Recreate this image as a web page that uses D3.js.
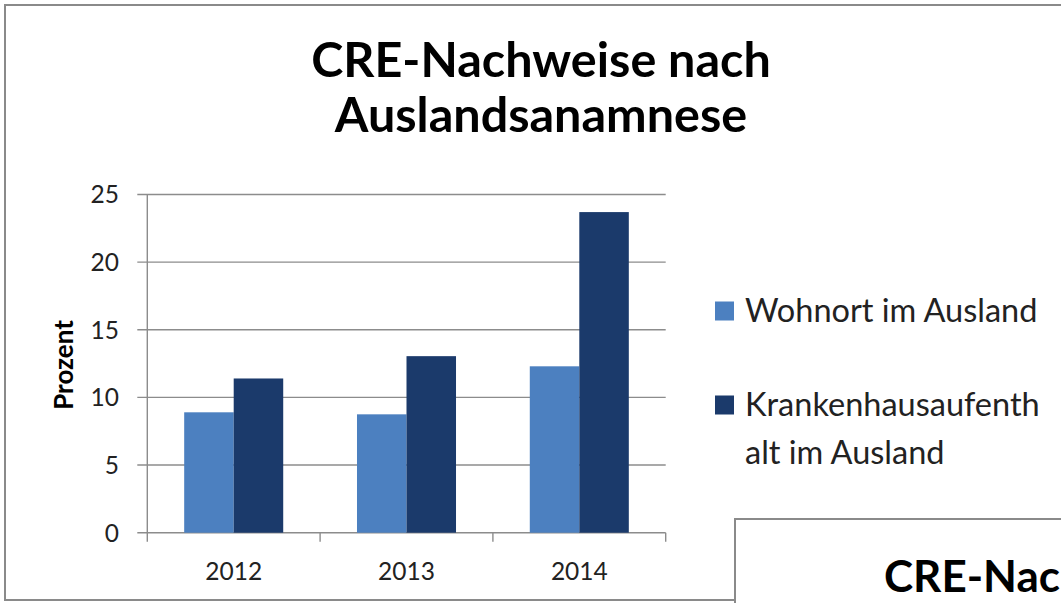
<!DOCTYPE html>
<html>
<head>
<meta charset="utf-8">
<script src="https://cdn.jsdelivr.net/npm/d3@7"></script>
<style>
  body { margin: 0; background: #fff; }
  svg { display: block; font-family: Lato, "Open Sans", sans-serif; }
</style>
</head>
<body>
<div id="chart"></div>
<script>
// data
const years = ["2012", "2013", "2014"];
const seriesNames = ["Wohnort im Ausland", "Krankenhausaufenthalt im Ausland"];
const wohnort = [8.9, 8.75, 12.3];
const krankenhaus = [11.4, 13.05, 23.7];
const yTicks = [0, 5, 10, 15, 20, 25];

const colors = ["#4c80c0", "#1b3a6b"];
const W = 1061, H = 603;

const svg = d3.select("#chart").append("svg")
    .attr("width", W).attr("height", H);

// outer chart frame
svg.append("rect")
    .attr("x", 5).attr("y", 5)
    .attr("width", W + 10).attr("height", 595)
    .style("fill", "#fff")
    .style("stroke", "#8a8a8a")
    .style("stroke-width", 2);

// title
const title = svg.append("text")
    .attr("text-anchor", "middle")
    .style("font-weight", "bold")
    .style("font-size", "48.5px")
    .style("fill", "#000");
title.append("tspan").attr("x", 541).attr("y", 77).text("CRE-Nachweise nach");
title.append("tspan").attr("x", 541).attr("y", 132).text("Auslandsanamnese");

const plot = { left: 147.3, right: 665.7, top: 194.5, bottom: 532.7 };

const x0 = d3.scaleBand().domain(years).range([plot.left, plot.right]).padding(0);
const x1 = d3.scaleBand().domain(seriesNames).range([0, x0.bandwidth()])
    .paddingInner(0).paddingOuter(0.745);
const y = d3.scaleLinear().domain([0, 25]).range([plot.bottom, plot.top]);

// gridlines
svg.append("g").selectAll("line")
    .data(yTicks)
    .enter().append("line")
    .attr("x1", plot.left - 10).attr("x2", plot.right)
    .attr("y1", d => y(d)).attr("y2", d => y(d))
    .style("stroke", "#8c8c8c")
    .style("stroke-width", 1.4);

// y axis line
svg.append("line")
    .attr("x1", plot.left).attr("x2", plot.left)
    .attr("y1", y(25)).attr("y2", y(0))
    .style("stroke", "#8c8c8c").style("stroke-width", 1.4);

// y tick labels
svg.append("g").selectAll("text")
    .data(yTicks)
    .enter().append("text")
    .attr("x", 119)
    .attr("y", d => y(d))
    .attr("dy", "0.36em")
    .attr("text-anchor", "end")
    .style("font-size", "24.5px")
    .style("fill", "#222")
    .text(d => d);

// category tick marks at band edges
const edges = years.map(d => x0(d)).concat([plot.right]);
svg.append("g").selectAll("line")
    .data(edges)
    .enter().append("line")
    .attr("x1", d => d).attr("x2", d => d)
    .attr("y1", y(0)).attr("y2", y(0) + 9)
    .style("stroke", "#8c8c8c").style("stroke-width", 1.4);

// x labels
svg.append("g").selectAll("text")
    .data(years)
    .enter().append("text")
    .attr("x", d => x0(d) + x0.bandwidth() / 2)
    .attr("y", 579.5)
    .attr("text-anchor", "middle")
    .style("font-size", "24.5px")
    .style("fill", "#222")
    .text(d => d);

// bars
const groups = svg.append("g").selectAll("g")
    .data(years)
    .enter().append("g")
    .attr("transform", d => "translate(" + x0(d) + ",0)");

groups.selectAll("rect")
    .data((d, i) => [
        { s: seriesNames[0], v: wohnort[i], c: colors[0] },
        { s: seriesNames[1], v: krankenhaus[i], c: colors[1] }
    ])
    .enter().append("rect")
    .attr("x", d => x1(d.s))
    .attr("width", x1.bandwidth())
    .attr("y", d => y(d.v))
    .attr("height", d => y(0) - y(d.v))
    .style("fill", d => d.c);

// y axis title
svg.append("text")
    .attr("transform", "translate(73,365) rotate(-90)")
    .attr("text-anchor", "middle")
    .style("font-weight", "bold")
    .style("font-size", "26px")
    .text("Prozent");

// legend
const legendRows = [
    { lines: ["Wohnort im Ausland"], y: 311, c: colors[0] },
    { lines: ["Krankenhausaufenth", "alt im Ausland"], y: 405, c: colors[1] }
];
const leg = svg.append("g").selectAll("g")
    .data(legendRows)
    .enter().append("g");
leg.append("rect")
    .attr("x", 715).attr("y", d => d.y - 9.5)
    .attr("width", 19).attr("height", 19)
    .style("fill", d => d.c);
leg.append("text")
    .style("font-size", "32.5px")
    .style("fill", "#222")
    .selectAll("tspan")
    .data(d => d.lines.map((t, i) => ({ t: t, y: d.y + 11 + i * 48 })))
    .enter().append("tspan")
    .attr("x", 745)
    .attr("y", d => d.y)
    .text(d => d.t);

// next chart peeking in at the bottom right
svg.append("rect")
    .attr("x", 735).attr("y", 519)
    .attr("width", 400).attr("height", 200)
    .style("fill", "#fff")
    .style("stroke", "#8a8a8a")
    .style("stroke-width", 2);
svg.append("text")
    .attr("x", 884).attr("y", 592)
    .style("font-weight", "bold")
    .style("font-size", "44px")
    .text("CRE-Nac");
</script>
</body>
</html>
